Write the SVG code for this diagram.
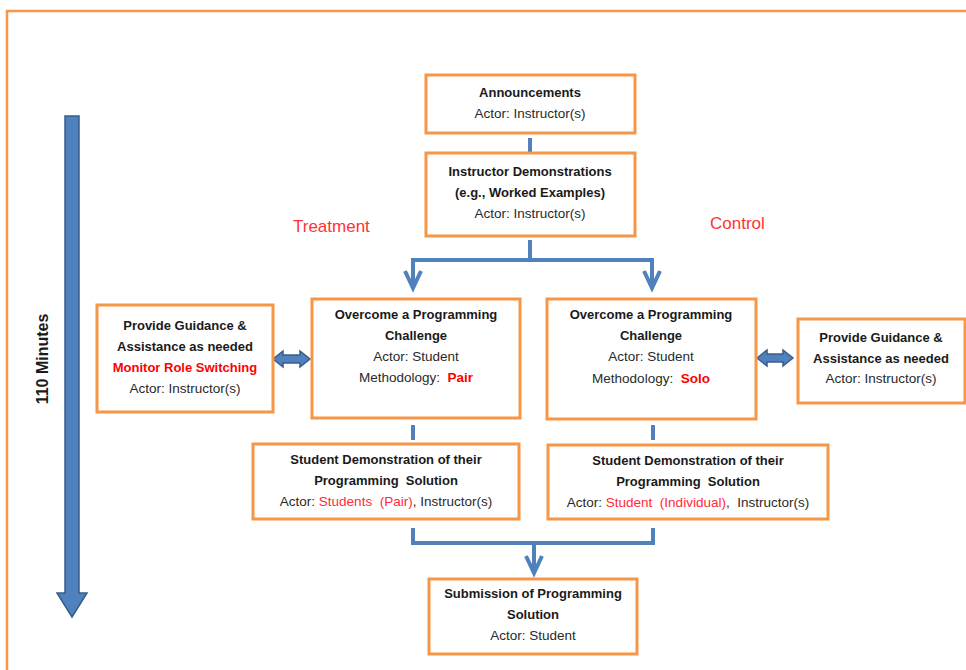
<svg xmlns="http://www.w3.org/2000/svg" width="966" height="670" viewBox="0 0 966 670">
<style>
.box{fill:#fff;stroke:#F79646;stroke-width:3}
.b{font-family:"Liberation Sans",Arial,sans-serif;font-size:13px;font-weight:bold;fill:#1a1a1a;text-anchor:middle}
.r{font-family:"Liberation Sans",Arial,sans-serif;font-size:13.5px;fill:#2a2a2a;text-anchor:middle;white-space:pre}
.red{fill:#FF0000}
.lred{fill:#FF2A3A}
.conn{fill:none;stroke:#4F81BD;stroke-width:4}
.head{fill:none;stroke:#4F81BD;stroke-width:4;stroke-linejoin:miter}
.blk{fill:#4F81BD;stroke:#385D8A;stroke-width:1.5}
.lbl{font-family:"Liberation Sans",Arial,sans-serif;font-size:17px;fill:#FF3333}
</style>
<rect x="7" y="11" width="1000" height="700" fill="#fff" stroke="#F79646" stroke-width="2.5"/>
<g id="timeline">
<path class="blk" d="M65,116 H79 V593 H87 L72,617 L57,593 H65 Z"/>
<text transform="translate(48,359) rotate(-90)" font-family="Liberation Sans,Arial,sans-serif" font-size="16" font-weight="bold" fill="#1a1a1a" text-anchor="middle">110 Minutes</text>
</g>
<g id="labels">
<text class="lbl" x="293" y="232">Treatment</text>
<text class="lbl" x="710" y="229">Control</text>
</g>
<g id="connectors">
<path class="conn" d="M530,138 V152"/>
<path class="conn" d="M530,240 V260 M413,260 H653 M413,258 V288 M652,258 V288"/>
<path class="head" d="M405,271 L413,288 L421,271 M644,271 L652,288 L660,271"/>
<path class="conn" d="M413,425 V440 M653,425 V440"/>
<path class="conn" d="M413,528 V543 H653 V528 M534,543 V572"/>
<path class="head" d="M526,556 L534,573 L542,556"/>
<path class="blk" d="M273,359 L283,351 V355 H300 V351 L310,359 L300,367 V363 H283 V367 Z"/>
<path class="blk" d="M757,358 L767,350 V354 H783 V350 L793,358 L783,366 V362 H767 V366 Z"/>
</g>
<g id="announcements">
<rect class="box" x="426" y="75" width="209" height="58"/>
<text class="b" x="530" y="97">Announcements</text>
<text class="r" x="530" y="118">Actor: Instructor(s)</text>
</g>
<g id="demonstrations">
<rect class="box" x="426" y="153" width="209" height="83"/>
<text class="b" x="530" y="176">Instructor Demonstrations</text>
<text class="b" x="530" y="197">(e.g., Worked Examples)</text>
<text class="r" x="530" y="218">Actor: Instructor(s)</text>
</g>
<g id="guidance-left">
<rect class="box" x="97" y="305" width="176" height="107"/>
<text class="b" x="185" y="330">Provide Guidance &amp;</text>
<text class="b" x="185" y="351">Assistance as needed</text>
<text class="b red" x="185" y="372">Monitor Role Switching</text>
<text class="r" x="185" y="393">Actor: Instructor(s)</text>
</g>
<g id="challenge-pair">
<rect class="box" x="312" y="299" width="208" height="119"/>
<text class="b" x="416" y="319">Overcome a Programming</text>
<text class="b" x="416" y="340">Challenge</text>
<text class="r" x="416" y="361">Actor: Student</text>
<text class="r" x="416" y="382" xml:space="preserve">Methodology:  <tspan class="red" font-weight="bold">Pair</tspan></text>
</g>
<g id="challenge-solo">
<rect class="box" x="547" y="299" width="209" height="120"/>
<text class="b" x="651" y="319">Overcome a Programming</text>
<text class="b" x="651" y="340">Challenge</text>
<text class="r" x="651" y="361">Actor: Student</text>
<text class="r" x="651" y="383" xml:space="preserve">Methodology:  <tspan class="red" font-weight="bold">Solo</tspan></text>
</g>
<g id="guidance-right">
<rect class="box" x="798" y="319" width="167" height="84"/>
<text class="b" x="881" y="342">Provide Guidance &amp;</text>
<text class="b" x="881" y="363">Assistance as needed</text>
<text class="r" x="881" y="383">Actor: Instructor(s)</text>
</g>
<g id="demo-pair">
<rect class="box" x="253" y="444" width="266" height="75"/>
<text class="b" x="386" y="464">Student Demonstration of their</text>
<text class="b" x="386" y="485" xml:space="preserve">Programming  Solution</text>
<text class="r" x="386" y="506" xml:space="preserve">Actor: <tspan class="lred">Students  (Pair)</tspan>, Instructor(s)</text>
</g>
<g id="demo-solo">
<rect class="box" x="548" y="445" width="280" height="74"/>
<text class="b" x="688" y="465">Student Demonstration of their</text>
<text class="b" x="688" y="486" xml:space="preserve">Programming  Solution</text>
<text class="r" x="688" y="507" xml:space="preserve">Actor: <tspan class="lred">Student  (Individual)</tspan>,  Instructor(s)</text>
</g>
<g id="submission">
<rect class="box" x="429" y="579" width="208" height="75"/>
<text class="b" x="533" y="598">Submission of Programming</text>
<text class="b" x="533" y="619">Solution</text>
<text class="r" x="533" y="640">Actor: Student</text>
</g>
</svg>
